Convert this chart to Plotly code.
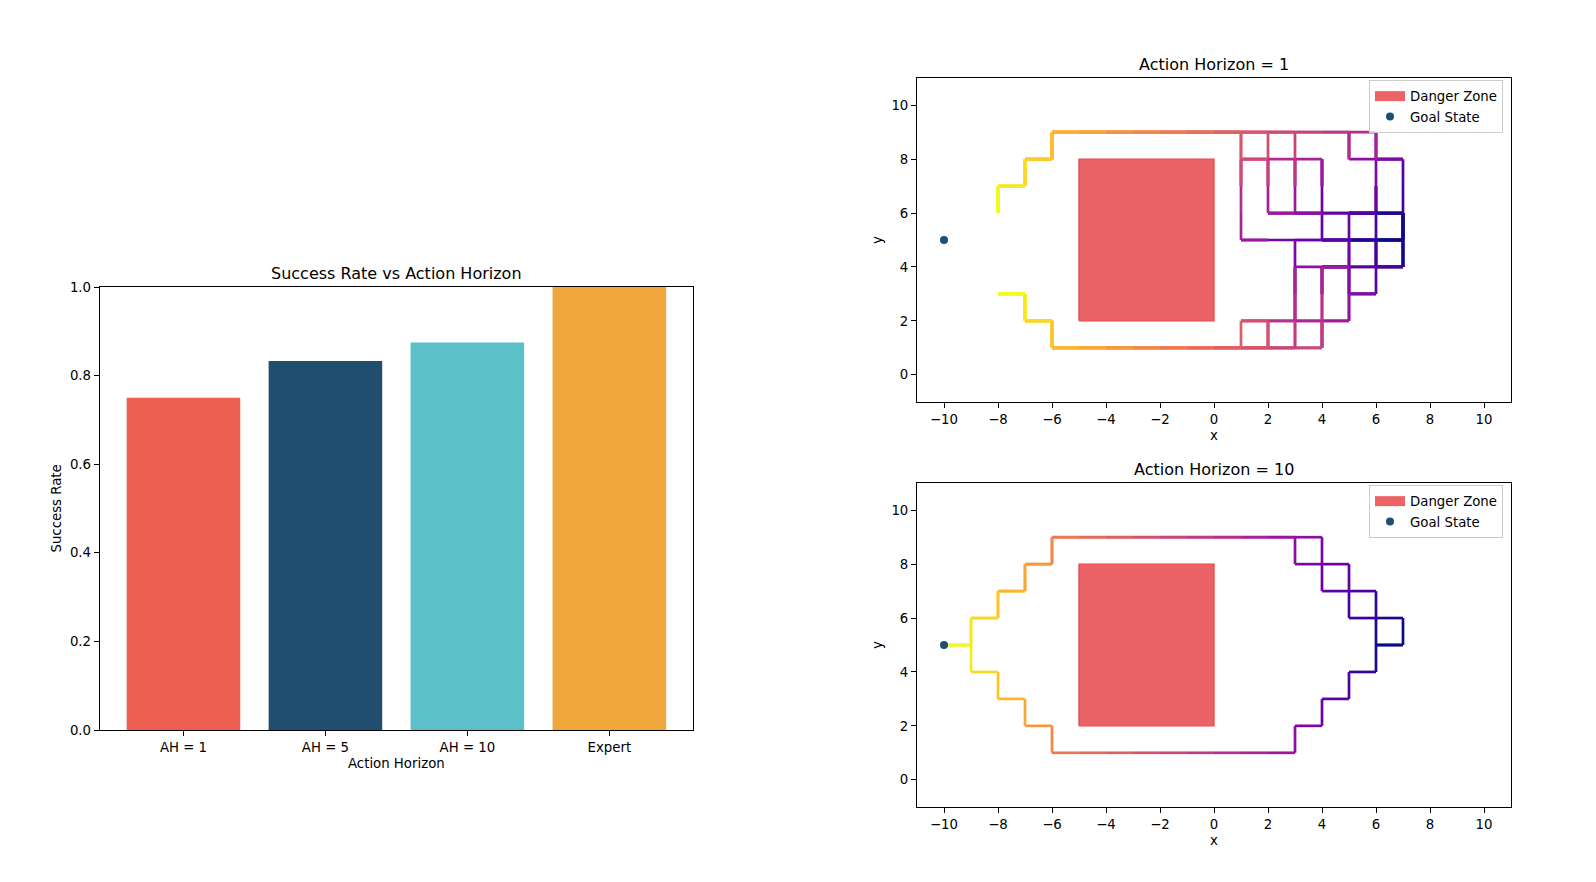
import plotly.graph_objects as go
from plotly.colors import sample_colorscale

# ---------------- data ----------------
categories = ["AH = 1", "AH = 5", "AH = 10", "Expert"]
success_rates = [0.75, 0.833, 0.875, 1.0]
bar_colors = ["#EC5F51", "#1F4E6E", "#5BC0C8", "#F0A73B"]

goal_state = (-10, 5)
danger_x = [-5, 0, 0, -5, -5]
danger_y = [2, 2, 8, 8, 2]

x_ticks = [-10, -8, -6, -4, -2, 0, 2, 4, 6, 8, 10]
y_ticks = [0, 2, 4, 6, 8, 10]

# shared corridor tails (explicit grid states)
upper_tail = [(0, 9), (-1, 9), (-2, 9), (-3, 9), (-4, 9), (-5, 9), (-6, 9),
              (-6, 8), (-7, 8), (-7, 7), (-8, 7), (-8, 6)]
lower_tail = [(0, 1), (-1, 1), (-2, 1), (-3, 1), (-4, 1), (-5, 1), (-6, 1),
              (-6, 2), (-7, 2), (-7, 3), (-8, 3)]
upper_tail_goal = upper_tail + [(-9, 6), (-9, 5), (-10, 5)]
lower_tail_goal = lower_tail + [(-8, 4), (-9, 4), (-9, 5), (-10, 5)]

# Action Horizon = 1 rollouts
ah1_heads_upper = [
    [(7, 5), (7, 6), (7, 5), (7, 6), (7, 7), (7, 8), (6, 8), (7, 8), (6, 8), (5, 8), (5, 9), (5, 8), (5, 9), (4, 9), (3, 9), (2, 9), (1, 9)],
    [(7, 5), (6, 5), (7, 5), (6, 5), (6, 6), (6, 7), (6, 6), (6, 7), (6, 8), (6, 9), (6, 8), (6, 9), (5, 9), (4, 9), (3, 9), (2, 9), (1, 9)],
    [(7, 5), (7, 6), (6, 6), (7, 6), (6, 6), (5, 6), (4, 6), (3, 6), (2, 6), (3, 6), (2, 6), (2, 7), (2, 8), (2, 7), (2, 8), (2, 9), (1, 9)],
    [(7, 5), (6, 5), (5, 5), (6, 5), (5, 5), (4, 5), (3, 5), (2, 5), (1, 5), (2, 5), (1, 5), (1, 6), (1, 7), (1, 8), (1, 7), (1, 8), (1, 9)],
    [(7, 5), (6, 5), (5, 5), (4, 5), (5, 5), (4, 5), (4, 6), (4, 7), (4, 8), (4, 7), (4, 8), (3, 8), (2, 8), (1, 8), (2, 8), (1, 8), (1, 9)],
    [(7, 5), (7, 6), (6, 6), (5, 6), (6, 6), (5, 6), (4, 6), (3, 6), (4, 6), (3, 6), (3, 7), (3, 8), (3, 7), (3, 8), (3, 9), (2, 9), (1, 9)],
]
ah1_heads_lower = [
    [(7, 5), (7, 4), (7, 5), (7, 4), (6, 4), (5, 4), (4, 4), (5, 4), (4, 4), (3, 4), (3, 3), (3, 2), (3, 3), (3, 2), (3, 1), (2, 1), (1, 1)],
    [(7, 5), (6, 5), (6, 4), (6, 5), (6, 4), (6, 3), (5, 3), (6, 3), (5, 3), (5, 2), (4, 2), (3, 2), (2, 2), (1, 2), (2, 2), (1, 2), (1, 1)],
    [(7, 5), (6, 5), (5, 5), (6, 5), (5, 5), (5, 4), (5, 3), (5, 4), (5, 3), (5, 2), (4, 2), (4, 1), (4, 2), (4, 1), (3, 1), (2, 1), (1, 1)],
    [(7, 5), (7, 4), (6, 4), (7, 4), (6, 4), (5, 4), (4, 4), (4, 3), (4, 4), (4, 3), (4, 2), (3, 2), (2, 2), (2, 1), (2, 2), (2, 1), (1, 1)],
    [(7, 5), (7, 6), (6, 6), (5, 6), (6, 6), (5, 6), (5, 5), (5, 4), (4, 4), (5, 4), (4, 4), (4, 3), (4, 2), (4, 1), (3, 1), (2, 1), (1, 1)],
    [(7, 5), (6, 5), (5, 5), (4, 5), (5, 5), (4, 5), (3, 5), (3, 4), (3, 3), (3, 4), (3, 3), (3, 2), (3, 1), (2, 1), (1, 1)],
]
ah1_paths = [h + upper_tail for h in ah1_heads_upper] + [h + lower_tail for h in ah1_heads_lower]

# Action Horizon = 10 rollouts
ah10_heads_upper = [
    [(7, 5), (7, 6), (6, 6), (6, 7), (5, 7), (5, 8), (4, 8), (4, 9), (3, 9), (2, 9), (1, 9)],
    [(7, 5), (6, 5), (6, 6), (5, 6), (5, 7), (4, 7), (4, 8), (3, 8), (3, 9), (2, 9), (1, 9)],
]
ah10_heads_lower = [
    [(7, 5), (6, 5), (6, 4), (5, 4), (5, 3), (4, 3), (4, 2), (3, 2), (3, 1), (2, 1), (1, 1)],
]
ah10_paths = [h + upper_tail_goal for h in ah10_heads_upper] + [h + lower_tail_goal for h in ah10_heads_lower]

# ---------------- figure ----------------
FONT = "DejaVu Sans"
TICK = 13.3
W, H = 1580, 866          # page body keeps its default 8px margin -> 1596 x 882 page
MT, MB = 20, 20           # explicit vertical margins
HP = H - MT - MB


def px(X):
    return (X - 8) / W


def py(Y):
    return (8 + MT + HP - Y) / HP


fig = go.Figure()

fig.add_trace(go.Bar(
    x=categories, y=success_rates, marker=dict(color=bar_colors, line=dict(width=0)),
    xaxis="x", yaxis="y", showlegend=False, hoverinfo="skip"))

DZ_FILL = "rgba(232,72,76,0.85)"


def add_panel(paths, xa, ya, legend_name):
    for path in paths:
        nseg = len(path) - 1
        cols = sample_colorscale("Plasma", [i / (nseg - 1) for i in range(nseg)])
        for i in range(nseg):
            (x0, y0), (x1, y1) = path[i], path[i + 1]
            fig.add_trace(go.Scatter(
                x=[x0, x1], y=[y0, y1], mode="lines",
                line=dict(color=cols[i], width=2.7),
                xaxis=xa, yaxis=ya, showlegend=False, hoverinfo="skip"))
    fig.add_trace(go.Scatter(
        x=danger_x, y=danger_y, mode="lines", fill="toself",
        fillcolor=DZ_FILL, line=dict(color="rgb(232,70,75)", width=1.3),
        xaxis=xa, yaxis=ya, showlegend=False, hoverinfo="skip"))
    # legend entries
    fig.add_trace(go.Scatter(
        x=[None], y=[None], mode="lines", line=dict(color=DZ_FILL, width=10),
        name="Danger Zone", xaxis=xa, yaxis=ya, legend=legend_name, hoverinfo="skip"))
    fig.add_trace(go.Scatter(
        x=[goal_state[0]], y=[goal_state[1]], mode="markers",
        marker=dict(color="#1D4F73", size=8),
        name="Goal State", xaxis=xa, yaxis=ya, legend=legend_name, hoverinfo="skip"))


add_panel(ah1_paths, "x2", "y2", "legend")
add_panel(ah10_paths, "x3", "y3", "legend2")

axis_common = dict(showline=True, linecolor="black", linewidth=1, mirror=True,
                   ticks="outside", ticklen=5, tickwidth=1, tickcolor="black",
                   showgrid=False, zeroline=False, automargin=False,
                   tickfont=dict(family=FONT, size=TICK, color="black"))

xr_dom = [px(917), px(1511)]
top_dom = [py(401.7), py(78.3)]
bot_dom = [py(806.7), py(483.3)]

legend_common = dict(xanchor="right", yanchor="top",
                     bordercolor="#cccccc", borderwidth=1, bgcolor="rgba(255,255,255,0.8)",
                     font=dict(family=FONT, size=TICK, color="black"))

fig.update_layout(
    width=W, height=H,
    margin=dict(l=0, r=0, t=MT, b=MB, pad=0, autoexpand=False),
    paper_bgcolor="white", plot_bgcolor="white",
    font=dict(family=FONT, size=TICK, color="black"),
    bargap=0.2,
    xaxis=dict(domain=[px(99.7), px(693.1)], anchor="y", type="category",
               range=[-0.59, 3.59], **axis_common),
    yaxis=dict(domain=[py(730), py(287)], anchor="x", range=[0, 1],
               tickvals=[0, 0.2, 0.4, 0.6, 0.8, 1.0], tickformat=".1f", **axis_common),
    xaxis2=dict(domain=xr_dom, anchor="y2", range=[-11, 11], tickvals=x_ticks, **axis_common),
    yaxis2=dict(domain=top_dom, anchor="x2", range=[-1, 11], tickvals=y_ticks, **axis_common),
    xaxis3=dict(domain=xr_dom, anchor="y3", range=[-11, 11], tickvals=x_ticks, **axis_common),
    yaxis3=dict(domain=bot_dom, anchor="x3", range=[-1, 11], tickvals=y_ticks, **axis_common),
    legend=dict(x=px(1503), y=py(80), **legend_common),
    legend2=dict(x=px(1503), y=py(485), **legend_common),
)

ann = []


def text(X, Y, s, size, angle=0):
    ann.append(dict(x=px(X), y=py(Y), xref="paper", yref="paper", text=s, showarrow=False,
                    xanchor="center", yanchor="middle", textangle=angle,
                    font=dict(family=FONT, size=size, color="black")))


text(396.4, 273, "Success Rate vs Action Horizon", 16)
text(396.4, 763, "Action Horizon", TICK)
text(56, 508.5, "Success Rate", TICK, -90)
text(1214, 64.1, "Action Horizon = 1", 16)
text(1214, 469.1, "Action Horizon = 10", 16)
text(1214, 435.6, "x", TICK)
text(1214, 840.6, "x", TICK)
text(877, 240, "y", TICK, -90)
text(877, 645, "y", TICK, -90)
fig.update_layout(annotations=ann)

fig.write_html("out.html")
